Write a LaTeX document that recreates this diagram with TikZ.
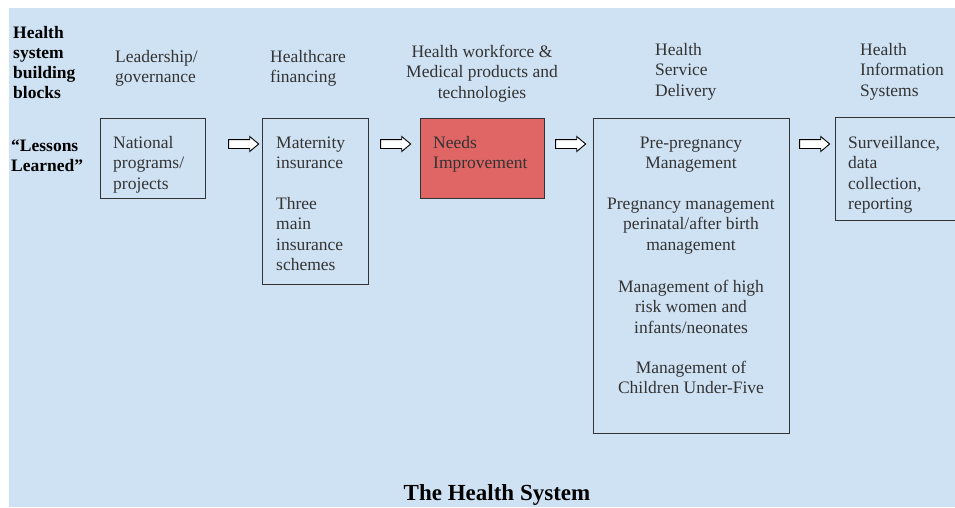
\documentclass[tikz,border=0pt]{standalone}
\usepackage{fontspec}
\setmainfont{Liberation Serif}
\usepackage{tikz}
\usetikzlibrary{calc}
\usetikzlibrary{shapes.arrows}

\definecolor{panel}{HTML}{CFE2F3}
\definecolor{badred}{HTML}{E06666}
\definecolor{ink}{HTML}{333333}

\tikzset{
    block/.style={draw=ink, line width=1.3pt, inner sep=0pt, anchor=north west},
    txt/.style={inner sep=0pt, text=ink, font=\fontsize{17.5}{20.6}\selectfont},
    head/.style={inner sep=0pt, align=left, font=\fontsize{17.5}{20.2}\selectfont\bfseries},
    push/.style={single arrow, draw=black, fill=white, line width=0.9pt,
        inner sep=4pt, minimum width=0pt, minimum height=30pt,
        single arrow head extend=3pt, single arrow tip angle=80},
}

\begin{document}
\begin{tikzpicture}[x=1pt, y=-1pt]
    \useasboundingbox (0,0) rectangle (955,507);
    \clip (0,0) rectangle (955,507);
    \fill[panel] (9,8) rectangle (955,507);

    % Boxes
    \node[block, minimum width=105pt, minimum height=80pt] (b1) at (100,118) {};
    \node[block, minimum width=106pt, minimum height=166pt] (b2) at (262,118) {};
    \node[block, fill=badred, minimum width=124pt, minimum height=80pt] (b3) at (420,118) {};
    \node[block, minimum width=196pt, minimum height=315pt] (b4) at (593,118) {};
    \node[block, minimum width=135pt, minimum height=103pt] (b5) at (835,117) {};

    % Arrows between the boxes
    \def\ay{144}
    \node[push] (a1) at (241,\ay) {};
    \node[push] (a2) at (393,\ay) {};
    \node[push] (a3) at (568,\ay) {};
    \node[push] (a4) at (812,\ay) {};

    % Box contents (placed at the baseline of the last line)
    \node[txt, align=left, anchor=base west] (n1) at (113,189.2) {National\\programs/\\projects};
    \node[txt, align=left, anchor=base west] (m1) at (276,168.6) {Maternity\\insurance};
    \node[txt, align=left, anchor=base west] (m2) at (276,270.8) {Three\\main\\insurance\\schemes};
    \node[txt, align=left, anchor=base west] (w1) at (433,168.6) {Needs\\Improvement};
    \node[txt, align=center, anchor=base] (d1) at (691,168.6) {Pre-pregnancy\\Management};
    \node[txt, align=center, anchor=base] (d2) at (691,250.2) {Pregnancy management\\perinatal/after birth\\management};
    \node[txt, align=center, anchor=base] (d3) at (691,333.2) {Management of high\\risk women and\\infants/neonates};
    \node[txt, align=center, anchor=base] (d4) at (691,393.6) {Management of\\Children Under-Five};
    \node[txt, align=left, anchor=base west] (s1) at (848,209.8) {Surveillance,\\data\\collection,\\reporting};

    % Labels
    \node[head, anchor=base west] (hdr) at (13,98.6) {Health\\system\\building\\blocks};
    \node[head, anchor=base west] (lsn) at (11,171.2) {“Lessons\\Learned”};
    \node[txt, align=left, anchor=base west] (lead) at (115,82.6) {Leadership/\\governance};
    \node[txt, align=left, anchor=base west] (fin) at (270,82.6) {Healthcare\\financing};
    \node[txt, align=center, anchor=base] (work) at (482,98.2) {Health workforce \&\\Medical products and\\technologies};
    \node[txt, align=left, anchor=base west] (deliv) at (655,96.2) {Health\\Service\\Delivery};
    \node[txt, align=left, anchor=base west] (info) at (860,96.2) {Health\\Information\\Systems};

    \node[inner sep=0pt, anchor=base, font=\fontsize{23}{27}\selectfont\bfseries] (title) at (497,500) {The Health System};
\end{tikzpicture}
\end{document}
